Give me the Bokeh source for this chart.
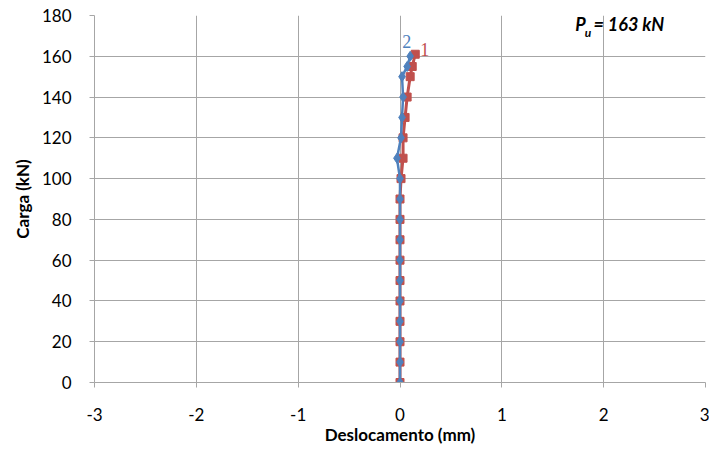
from bokeh.plotting import figure
from bokeh.models import Label, ColumnDataSource
from bokeh.embed import file_html
from bokeh.resources import INLINE

# Data
load_1 = [0, 10, 20, 30, 40, 50, 60, 70, 80, 90, 100, 110, 120, 130, 140, 150, 155, 161]
disp_1 = [0.0, 0.0, 0.0, 0.0, 0.0, 0.0, 0.0, 0.0, 0.0, 0.0, 0.01, 0.03, 0.03, 0.05, 0.07, 0.10, 0.12, 0.15]
load_2 = [0, 10, 20, 30, 40, 50, 60, 70, 80, 90, 100, 110, 120, 130, 140, 150, 155, 160]
disp_2 = [0.0, 0.0, 0.0, 0.0, 0.0, 0.0, 0.0, 0.0, 0.0, 0.0, 0.0, -0.03, 0.01, 0.02, 0.03, 0.02, 0.07, 0.10]
x_ticks = [-3, -2, -1, 0, 1, 2, 3]
x_tick_labels = ["-3", "-2", "-1", "0", "1", "2", "3"]
y_ticks = [0, 20, 40, 60, 80, 100, 120, 140, 160, 180]

RED = "#C0504D"
BLUE = "#4F81BD"
GRID = "#A6A6A6"
FONT = "Lato"

p = figure(width=709, height=452, x_range=(-3, 3), y_range=(0, 180),
           output_backend="svg", toolbar_location=None,
           min_border_left=94, min_border_right=4, min_border_top=15, min_border_bottom=70)
p.outline_line_color = None
p.background_fill_color = "white"
p.border_fill_color = "white"

for ax in (p.xaxis, p.yaxis):
    ax.axis_line_color = GRID
    ax.major_tick_line_color = GRID
    ax.major_tick_out = 5
    ax.major_tick_in = 0
    ax.minor_tick_line_color = None
    ax.major_label_text_font = FONT
    ax.major_label_text_font_size = "17px"
    ax.major_label_text_color = "#000000"
    ax.axis_label_text_font = FONT
    ax.axis_label_text_font_style = "bold"
    ax.axis_label_text_font_size = "17px"
    ax.axis_label_text_color = "#000000"

p.xaxis.ticker = x_ticks
p.xaxis.major_label_overrides = {t: s for t, s in zip(x_ticks, x_tick_labels)}
p.yaxis.ticker = y_ticks
p.xaxis.axis_label = "Deslocamento (mm)"
p.yaxis.axis_label = "Carga (kN)"
p.xaxis.major_label_standoff = 20
p.xaxis.axis_label_standoff = 0
p.yaxis.major_label_standoff = 18
p.yaxis.axis_label_standoff = 6

p.xgrid.grid_line_color = GRID
p.ygrid.grid_line_color = GRID
p.xgrid.grid_line_width = 1
p.ygrid.grid_line_width = 1

s1 = ColumnDataSource(dict(x=disp_1, y=load_1))
s2 = ColumnDataSource(dict(x=disp_2, y=load_2))

p.line("x", "y", source=s1, line_color=RED, line_width=3)
p.scatter("x", "y", source=s1, marker="square", size=8, fill_color=RED, line_color=RED)
p.line("x", "y", source=s2, line_color=BLUE, line_width=2.5)
p.scatter("x", "y", source=s2, marker="diamond", size=10, fill_color=BLUE, line_color=BLUE)

# Series labels
p.add_layout(Label(x=disp_1[-1], y=load_1[-1], text="1", x_offset=5, y_offset=-2,
                   text_color=RED, text_font="Liberation Serif", text_font_size="18px"))
p.add_layout(Label(x=disp_2[-1], y=load_2[-1], text="2", x_offset=-8, y_offset=8,
                   text_color=BLUE, text_font="Liberation Serif", text_font_size="18px"))

# Pu annotation (data coordinates, top right)
p.add_layout(Label(x=1.72, y=170.2, text="P",
                   text_font=FONT, text_font_style="bold italic", text_font_size="18px",
                   text_color="#000000"))
p.add_layout(Label(x=1.815, y=168.2, text="u",
                   text_font=FONT, text_font_style="bold italic", text_font_size="12px",
                   text_color="#000000"))
p.add_layout(Label(x=1.90, y=170.2, text="= 163 kN",
                   text_font=FONT, text_font_style="bold italic", text_font_size="18px",
                   text_color="#000000"))

open("out.html", "w").write(file_html(p, INLINE))
